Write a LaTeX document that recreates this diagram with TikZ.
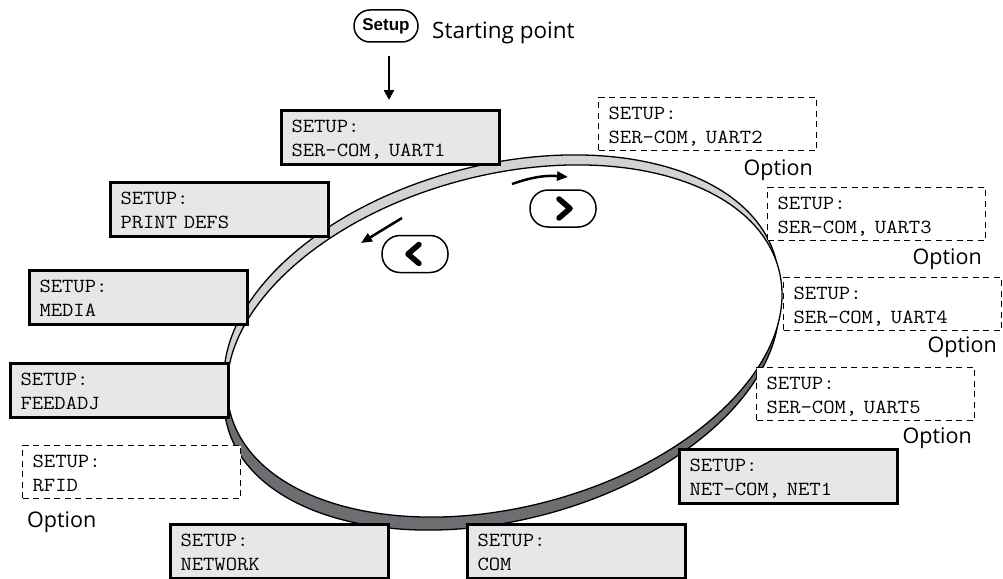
\documentclass[tikz,border=0pt]{standalone}
\usepackage{fontspec}
\setmainfont{Open Sans}
\newfontfamily\monof[FakeStretch=1.1]{Latin Modern Mono}
\newfontfamily\pillf{Liberation Sans}
\usetikzlibrary{arrows.meta,calc}
\definecolor{boxgray}{RGB}{230,231,232}
\definecolor{ringlight}{RGB}{209,211,212}
\definecolor{ringdark}{RGB}{109,110,113}
\begin{document}
\begin{tikzpicture}[x=1pt,y=-1pt,
  screen/.style={draw=black, line width=3pt, fill=boxgray, minimum width=218pt, minimum height=54pt, text width=198pt, inner xsep=10pt, inner ysep=0pt, text height=21.7pt, text depth=32.3pt, align=left, anchor=north west, font=\monof\fontsize{20}{24}\selectfont},
  optscreen/.style={screen, line width=1.3pt, fill=white, dash pattern=on 6pt off 4.5pt, minimum height=53pt, text depth=31.3pt},
  optlabel/.style={inner sep=0pt, font=\fontsize{21.5}{21.5}\selectfont},
  ring/.style={draw=black, line width=1.3pt},
  btn/.style={draw=black, line width=1.5pt, rounded corners=18pt, minimum width=66pt, minimum height=37pt, inner sep=0pt},
  chev/.style={line width=5.5pt, line cap=round, line join=round},
  dirarrow/.style={line width=2.5pt, -{Triangle[length=11pt,width=9pt]}}
]
\useasboundingbox (0,0) rectangle (1003,578);
% ring (3D disk)
\draw[ring, fill=ringdark, shift={(-3,13)}, rotate around={14.64:(504.5,341)}] (504.5,341) ellipse [x radius=283.5pt, y radius=166.2pt];
\draw[ring, fill=ringlight, shift={(-3,-10)}, rotate around={14.64:(504.5,341)}] (504.5,341) ellipse [x radius=283.5pt, y radius=166.2pt];
\draw[ring, fill=white, rotate around={14.64:(504.5,341)}] (504.5,341) ellipse [x radius=283.5pt, y radius=166.2pt];

% starting point
\node[draw, line width=1.5pt, rounded corners=16pt, minimum width=64pt, minimum height=32pt, inner sep=0pt, font=\pillf\bfseries\fontsize{17}{17}\selectfont] (setup) at (386,26) {Setup};
\node[anchor=base west, inner sep=0pt, font=\fontsize{22.5}{22.5}\selectfont] (sp) at (432,38) {Starting point};

% menu screens
\node[screen] (u1) at (280,109) {SETUP:\\SER-COM, UART1};
\node[screen] (pd) at (109,181) {SETUP:\\PRINT DEFS};
\node[screen] (me) at (28,269) {SETUP:\\MEDIA};
\node[screen] (fa) at (9,362) {SETUP:\\FEEDADJ};
\node[optscreen] (rf) at (22,445) {SETUP:\\RFID};
\node[screen] (nw) at (169,523) {SETUP:\\NETWORK};
\node[screen] (co) at (466,523) {SETUP:\\COM};
\node[screen] (n1) at (678,448) {SETUP:\\NET-COM, NET1};
\node[optscreen] (u5) at (756,367) {SETUP:\\SER-COM, UART5};
\node[optscreen] (u4) at (783,277) {SETUP:\\SER-COM, UART4};
\node[optscreen] (u3) at (767,187) {SETUP:\\SER-COM, UART3};
\node[optscreen] (u2) at (598,97) {SETUP:\\SER-COM, UART2};

% option labels
\node[optlabel, anchor=base east] (o2) at (813,175) {Option};
\node[optlabel, anchor=base east] (o3) at (982,264) {Option};
\node[optlabel, anchor=base east] (o4) at (997,352) {Option};
\node[optlabel, anchor=base east] (o5) at (972,443) {Option};
\node[optlabel, anchor=base west] (orf) at (27,527) {Option};

% entry arrow
\coordinate (a1) at ([xshift=3pt]setup.south);
\draw[line width=2.2pt, -{Triangle[length=10pt,width=10pt]}, shorten <=13pt, shorten >=9pt] (a1) -- (a1 |- u1.north);

% navigation buttons
\node[btn] (nextb) at (563,208.5) {};
\node[btn] (prevb) at (415,254) {};
\draw[chev] ($(nextb.center)+(-4,-9.5)$) -- ($(nextb.center)+(7,0)$) -- ($(nextb.center)+(-4,9.5)$);
\draw[chev] ($(prevb.center)+(4,-9.5)$) -- ($(prevb.center)+(-7,0)$) -- ($(prevb.center)+(4,9.5)$);

% direction arrows
\coordinate (ra1) at (512,184);
\coordinate (ra2) at (568,177);
\draw[dirarrow] (ra1) to[bend left=12] (ra2);
\coordinate (la1) at (402,218);
\coordinate (la2) at (361,243);
\draw[dirarrow] (la1) -- (la2);
\end{tikzpicture}
\end{document}
